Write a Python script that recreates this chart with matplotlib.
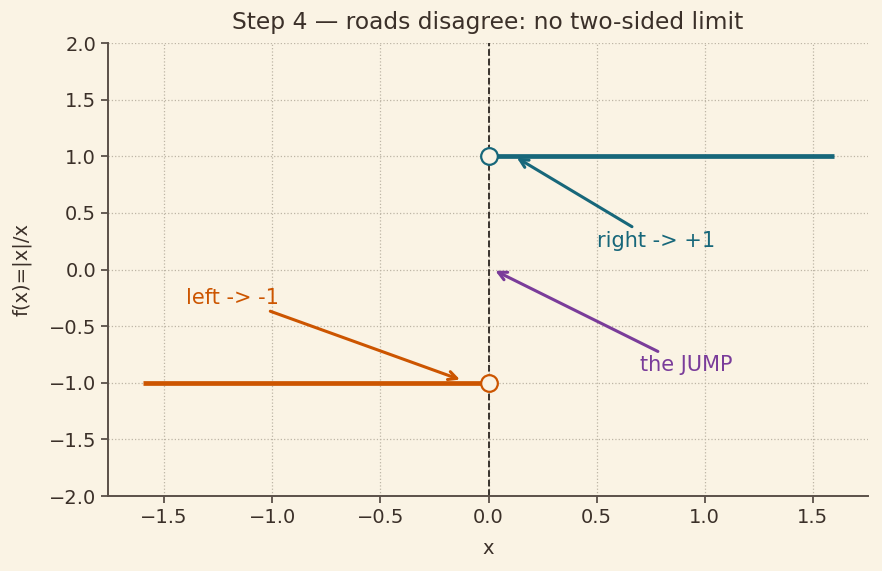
import numpy as np
import matplotlib
matplotlib.use("Agg")
import matplotlib.pyplot as plt

# data
x_left = np.array([-1.6, 0.0])
y_left = np.array([-1.0, -1.0])
x_right = np.array([0.0, 1.6])
y_right = np.array([1.0, 1.0])
holes_x = [0.0, 0.0]
holes_y = [1.0, -1.0]

bg = '#faf3e4'
ink = '#3b3029'
c_left = '#cc5500'
c_right = '#17677a'
c_jump = '#7a3c9a'

plt.rcParams['font.family'] = 'DejaVu Sans'
fig = plt.figure(figsize=(8.82, 5.71), dpi=100, facecolor=bg)
ax = fig.add_axes([0.1224, 0.1313, 0.8617, 0.7933])
ax.set_facecolor(bg)

ax.plot(x_left, y_left, color=c_left, lw=3.4, solid_capstyle='butt', zorder=3)
ax.plot(x_right, y_right, color=c_right, lw=3.4, solid_capstyle='butt', zorder=3)
ax.axvline(0, color='#2b2520', ls='--', lw=1.3, zorder=2)
ax.plot([holes_x[0]], [holes_y[0]], 'o', ms=12, mfc=bg, mec=c_right, mew=1.6, zorder=4)
ax.plot([holes_x[1]], [holes_y[1]], 'o', ms=12, mfc=bg, mec=c_left, mew=1.6, zorder=4)

ax.annotate('left -> -1', xy=(-0.12, -0.98), xytext=(-1.4, -0.3), color=c_left, fontsize=15,
            arrowprops=dict(arrowstyle='->', color=c_left, lw=2.2))
ax.annotate('right -> +1', xy=(0.12, 1.0), xytext=(0.5, 0.2), color=c_right, fontsize=15,
            arrowprops=dict(arrowstyle='->', color=c_right, lw=2.2))
ax.annotate('the JUMP', xy=(0.02, 0.0), xytext=(0.7, -0.9), color=c_jump, fontsize=15,
            arrowprops=dict(arrowstyle='->', color=c_jump, lw=2.2))

ax.set_xlim(-1.76, 1.755)
ax.set_ylim(-2, 2)
ax.set_xticks([-1.5, -1.0, -0.5, 0.0, 0.5, 1.0, 1.5])
ax.set_yticks(np.arange(-2, 2.01, 0.5))
ax.grid(True, ls=':', color='#bdb5a5', lw=0.9)
for s in ['top', 'right']:
    ax.spines[s].set_visible(False)
for s in ['left', 'bottom']:
    ax.spines[s].set_color('#5a5048')
    ax.spines[s].set_linewidth(1.4)
ax.tick_params(colors=ink, labelsize=14, color='#5a5048', length=5, width=1.3)
ax.set_xlabel('x', fontsize=14, color=ink, labelpad=9)
ax.set_ylabel('f(x)=|x|/x', fontsize=14, color=ink, labelpad=12)
ax.set_title('Step 4 — roads disagree: no two-sided limit', fontsize=16.8, color=ink, pad=10)

fig.savefig('out.png', dpi=100, facecolor=bg)
